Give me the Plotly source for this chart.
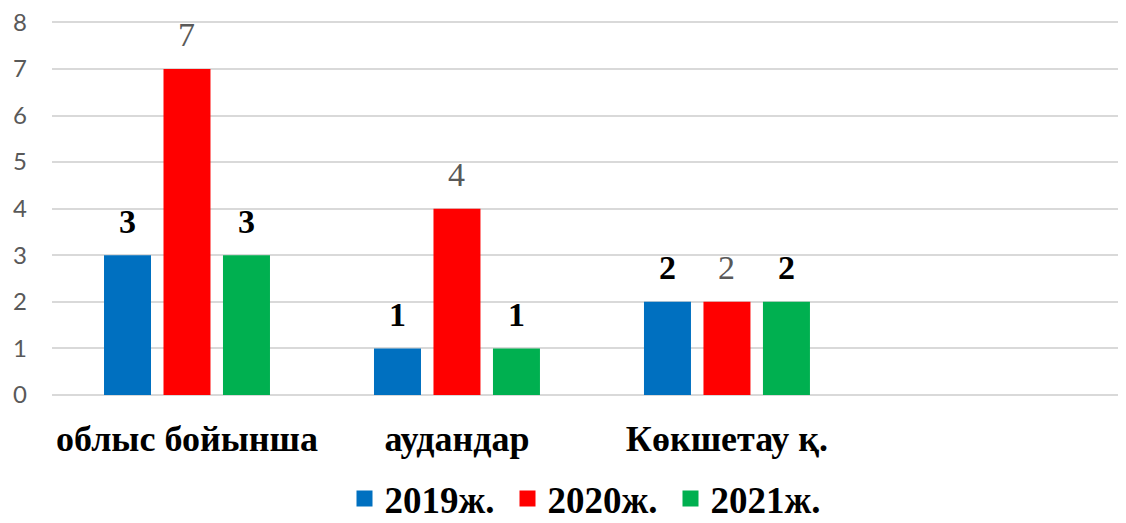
import plotly.graph_objects as go

categories = ["облыс бойынша", "аудандар", "Көкшетау қ."]
series_names = ["2019ж.", "2020ж.", "2021ж."]
v2019 = [3, 1, 2]
v2020 = [7, 4, 2]
v2021 = [3, 1, 2]
y_ticks = [0, 1, 2, 3, 4, 5, 6, 7, 8]

series_values = [v2019, v2020, v2021]
colors = ["#0070C0", "#FF0000", "#00B050"]
label_styles = [
    dict(color="#000000", weight="bold"),
    dict(color="#595959", weight="normal"),
    dict(color="#000000", weight="bold"),
]

SERIF = "Liberation Serif, Times New Roman, serif"
BARGAP = 0.339
BARGROUPGAP = 0.21

fig = go.Figure()
for name, vals, col in zip(series_names, series_values, colors):
    fig.add_trace(go.Bar(
        x=list(range(len(categories))), y=vals, name=name,
        marker=dict(color=col, line=dict(width=0)),
        showlegend=False, hoverinfo="skip",
    ))
    # legend proxies with larger square symbols
    fig.add_trace(go.Scatter(
        x=[None], y=[None], mode="markers", name=name,
        marker=dict(symbol="square", size=17, color=col),
        showlegend=True,
    ))

slot = (1 - BARGAP) / len(series_names)
annotations = []
for k, (vals, st) in enumerate(zip(series_values, label_styles)):
    for i, v in enumerate(vals):
        annotations.append(dict(
            x=i + (k - 1) * slot, y=v, xref="x", yref="y",
            text=str(v), showarrow=False, yanchor="middle", yshift=34,
            font=dict(family=SERIF, size=34, color=st["color"], weight=st["weight"]),
        ))

# the page body adds an 8px offset; compensate in size and margins
fig.update_layout(
    width=1118, height=515,
    margin=dict(l=44, r=0, t=12, b=128, autoexpand=False),
    paper_bgcolor="white", plot_bgcolor="white",
    barmode="group", bargap=BARGAP, bargroupgap=BARGROUPGAP,
    annotations=annotations,
    legend=dict(
        orientation="h", x=0.5, xanchor="center", xref="paper",
        y=24 / 515, yanchor="middle", yref="container",
        font=dict(family=SERIF, size=37, color="#000000", weight="bold"),
        itemwidth=30, tracegroupgap=0, bgcolor="rgba(0,0,0,0)",
        entrywidth=118, entrywidthmode="pixels",
    ),
    showlegend=True,
)
fig.update_xaxes(
    tickmode="array", tickvals=list(range(len(categories))), ticktext=categories,
    range=[-0.5, 3.478], showgrid=False, zeroline=False, showline=False,
    ticks="", ticklabelstandoff=19, automargin=False, ticklabeloverflow="allow",
    tickfont=dict(family=SERIF, size=36, color="#000000", weight="bold"),
)
fig.update_yaxes(
    range=[0, 8.05], tickmode="array", tickvals=y_ticks,
    showgrid=True, gridcolor="#D9D9D9", gridwidth=1.5,
    zeroline=True, zerolinecolor="#D9D9D9", zerolinewidth=1.5,
    showline=False, ticks="", ticklabelstandoff=24, automargin=False,
    ticklabeloverflow="allow",
    tickfont=dict(family="Lato, Calibri, sans-serif", size=24, color="#595959"),
)

fig.write_html("out.html")
